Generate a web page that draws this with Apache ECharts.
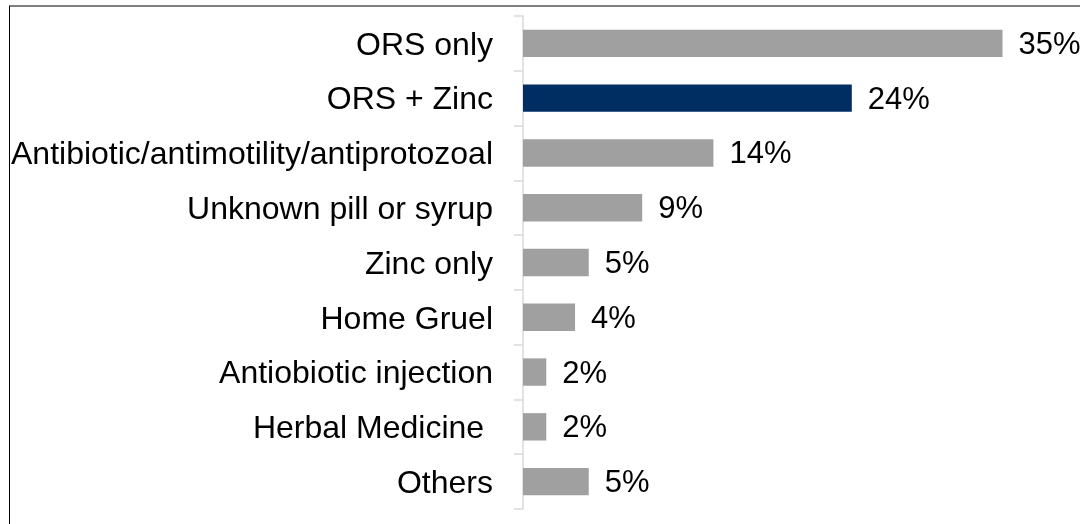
<!DOCTYPE html>
<html>
<head>
<meta charset="utf-8">
<style>
html,body{margin:0;padding:0;background:#fff;}
#frame{position:absolute;left:9px;top:5px;width:1071px;height:519px;border-top:2px solid #808080;border-left:1px solid #000;box-sizing:border-box;}
#main{position:absolute;left:0;top:0;width:1080px;height:524px;}
</style>
</head>
<body>
<div id="frame"></div>
<div id="main"></div>
<script src="https://cdn.jsdelivr.net/npm/echarts@6/dist/echarts.min.js"></script>
<script type="text/javascript">
	// categories, top to bottom
	var categories = ['ORS only', 'ORS + Zinc', 'Antibiotic/antimotility/antiprotozoal', 'Unknown pill or syrup', 'Zinc only', 'Home Gruel', 'Antiobiotic injection', 'Herbal Medicine ', 'Others'];
	// percent values
	var values = [35, 24, 13.9, 8.7, 4.8, 3.8, 1.7, 1.7, 4.8];
	// the highlighted bar
	var highlight = 'ORS + Zinc';

	var grey = '#a0a0a0';
	var navy = '#002d62';

	var chart = echarts.init(document.getElementById('main'));
	var option = {
		animation: false,
		textStyle: { fontFamily: 'Liberation Sans, Arial, sans-serif' },
		grid: { left: 523, right: 9, top: 16, bottom: 15, containLabel: false },
		xAxis: {
			type: 'value',
			min: 0,
			max: 40,
			show: false
		},
		yAxis: {
			type: 'category',
			data: categories,
			inverse: true,
			offset: 2,
			axisLine: { show: true, lineStyle: { color: '#d9d9d9', width: 1.5 } },
			axisTick: { show: true, length: 9, lineStyle: { color: '#d9d9d9', width: 1.5 } },
			axisLabel: {
				color: '#000',
				fontSize: 32,
				margin: 28,
				formatter: function (v) { return '{a|' + v + '}'; },
				rich: { a: { fontSize: 32, color: '#000', padding: [5, 0, 0, 0] } }
			},
			splitLine: { show: false }
		},
		series: [{
			type: 'bar',
			barWidth: '50%',
			data: values.map(function (v, i) {
				return { value: v, itemStyle: { color: categories[i] === highlight ? navy : grey } };
			}),
			label: {
				show: true,
				position: 'right',
				distance: 16,
				offset: [0, 2],
				color: '#000',
				fontSize: 31,
				formatter: function (p) { return Math.round(p.value) + '%'; }
			}
		}]
	};
	chart.setOption(option);
</script>
</body>
</html>
